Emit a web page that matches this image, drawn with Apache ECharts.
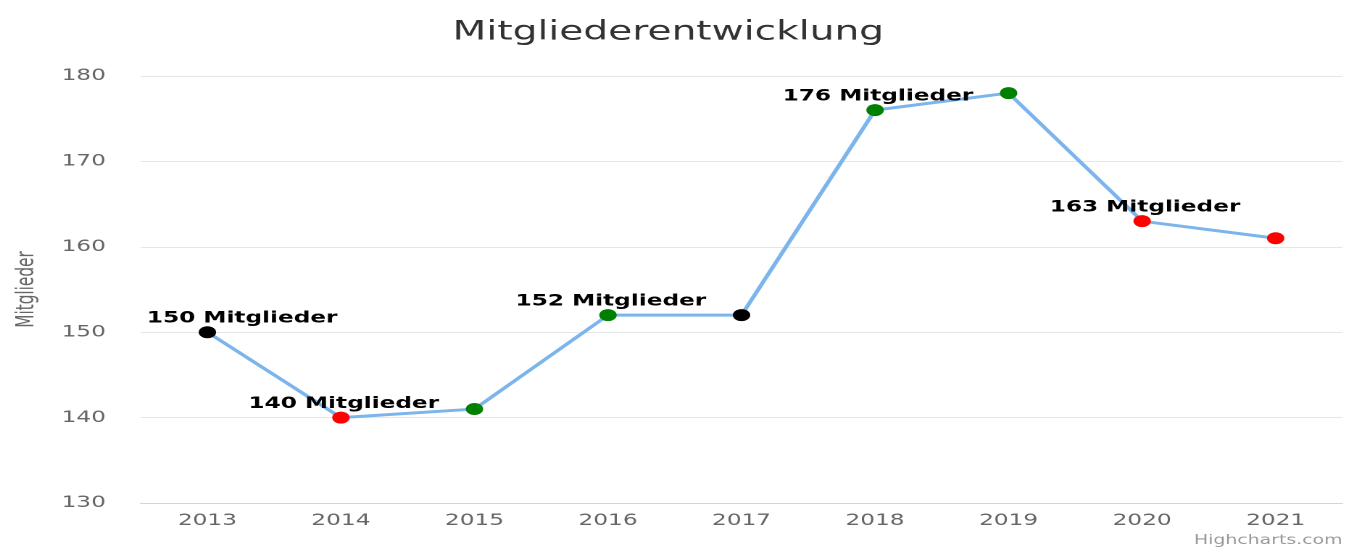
<!DOCTYPE html>
<html>
<head>
<meta charset="utf-8">
<title>Mitgliederentwicklung</title>
<script src="https://cdn.jsdelivr.net/npm/echarts@6/dist/echarts.min.js"></script>
<style>
  html, body { margin: 0; padding: 0; background: #fff; overflow: hidden; }
  /* the reference is stretched sideways, so draw narrow and widen it */
  #chart01 { width: 934px; height: 549px; transform: scaleX(1.4497); transform-origin: 0 0; }
</style>
</head>
<body>
<div id="chart01"></div>
<script>
var years = ['2013', '2014', '2015', '2016', '2017', '2018', '2019', '2020', '2021'];
var members = [150, 140, 141, 152, 152, 176, 178, 163, 161];
var pointColors = ['#000000', '#ff0000', '#008000', '#008000', '#000000', '#008000', '#008000', '#ff0000', '#ff0000'];
var showLabel = [true, true, false, true, false, true, false, true, false];

var chart01Dom = document.getElementById('chart01');
var chart01 = echarts.init(chart01Dom, null, { devicePixelRatio: 2 });

var pointData = members.map(function (v, i) {
  return {
    value: v,
    itemStyle: { color: pointColors[i] },
    label: { show: showLabel[i], offset: i === 0 ? [24, 0] : [2, 0] }
  };
});

var option_c01 = {
  animation: false,
  title: {
    text: 'Mitgliederentwicklung',
    left: 456,
    textAlign: 'center',
    top: 14,
    textStyle: {
      fontFamily: 'DejaVu Sans',
      fontSize: 27,
      fontWeight: 'normal',
      color: '#333333'
    }
  },
  grid: {
    left: 97,
    right: 8,
    top: 76,
    bottom: 46
  },
  xAxis: {
    type: 'category',
    data: years,
    boundaryGap: true,
    axisLine: { lineStyle: { color: '#ccd6eb', width: 1 } },
    axisTick: { show: false },
    axisLabel: {
      color: '#666666',
      fontFamily: 'DejaVu Sans',
      fontSize: 16,
      margin: 10
    }
  },
  yAxis: {
    type: 'value',
    min: 130,
    max: 180,
    interval: 10,
    name: 'Mitglieder',
    nameLocation: 'middle',
    nameGap: 70,
    nameTextStyle: {
      color: '#666666',
      fontFamily: '"Liberation Sans Narrow", "DejaVu Sans Condensed", Roboto, sans-serif',
      fontSize: 17
    },
    axisLine: { show: false },
    axisTick: { show: false },
    splitLine: { lineStyle: { color: '#e6e6e6', width: 1 } },
    axisLabel: {
      color: '#666666',
      fontFamily: 'DejaVu Sans',
      fontSize: 16,
      margin: 24
    }
  },
  graphic: [
    {
      type: 'text',
      right: 8,
      bottom: 2,
      style: {
        text: 'Highcharts.com',
        fill: '#999999',
        font: '13px "DejaVu Sans"'
      }
    }
  ],
  series: [
    {
      name: 'Mitglieder',
      type: 'line',
      data: pointData,
      color: '#7cb5ec',
      lineStyle: { color: '#7cb5ec', width: 3 },
      symbol: 'circle',
      symbolSize: 12,
      label: {
        position: 'top',
        distance: 0,
        formatter: '{c} Mitglieder',
        color: '#000000',
        fontFamily: 'DejaVu Sans',
        fontWeight: 'bold',
        fontSize: 16
      },
      emphasis: { disabled: true }
    }
  ]
};

chart01.setOption(option_c01);
</script>
</body>
</html>
